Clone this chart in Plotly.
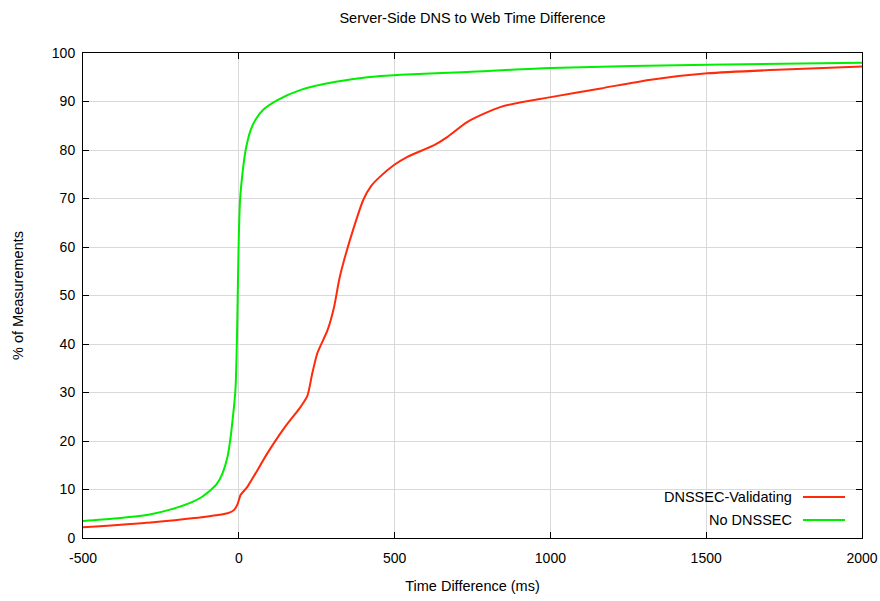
import plotly.graph_objects as go

# No DNSSEC (green)
nodnssec_ms = [-500, -400, -282, -218, -154, -120, -90, -70, -52, -36, -26, -20, -14, -10, -6, -3, 0, 4, 12, 22, 38, 55, 80, 124, 199, 306, 413, 520, 734, 1001, 1504, 2000]
nodnssec_pct = [3.5, 4.0, 4.9, 5.9, 7.3, 8.4, 9.9, 11.2, 13.4, 16.8, 20.9, 24.3, 28.0, 31.5, 40.8, 52.0, 62.0, 69.7, 75.3, 80.0, 84.1, 86.4, 88.4, 90.3, 92.4, 94.0, 95.0, 95.5, 96.1, 96.9, 97.6, 98.0]

# DNSSEC-Validating (red)
valid_ms = [-500, -282, -143, -36, -15, -4, 1, 6, 28, 92, 145, 199, 220, 236, 252, 285, 306, 322, 338, 370, 400, 425, 450, 498, 541, 627, 670, 734, 841, 1001, 1162, 1322, 1504, 1750, 2000]
valid_pct = [2.2, 3.2, 4.1, 5.1, 5.8, 7.0, 8.0, 8.9, 10.6, 17.5, 22.6, 27.1, 29.3, 34.0, 38.1, 42.9, 47.7, 53.2, 57.3, 64.2, 69.8, 72.6, 74.3, 76.9, 78.6, 81.0, 82.7, 85.8, 88.9, 90.9, 92.7, 94.5, 95.8, 96.6, 97.2]

x_ticks = [-500, 0, 500, 1000, 1500, 2000]
y_ticks = list(range(0, 101, 10))

RED = "#ff2a0a"
GREEN = "#00ee00"
FONT = "Liberation Sans, Arial, sans-serif"

fig = go.Figure()
fig.add_trace(go.Scatter(x=valid_ms, y=valid_pct, mode="lines", name="DNSSEC-Validating",
                         line=dict(color=RED, width=2, shape="spline", smoothing=0.7), showlegend=False))
fig.add_trace(go.Scatter(x=nodnssec_ms, y=nodnssec_pct, mode="lines", name="No DNSSEC",
                         line=dict(color=GREEN, width=2, shape="spline", smoothing=0.7), showlegend=False))

axis_common = dict(showline=True, linecolor="black", linewidth=1, mirror="ticks",
                   ticks="inside", ticklen=6, tickcolor="black", showgrid=True,
                   gridcolor="#d9d9d9", gridwidth=1, zeroline=False,
                   tickfont=dict(family=FONT, size=14, color="black"), automargin=False)

L, R, T, B = 83, 862, 53, 538

fig.update_layout(
    width=880, height=601,
    margin=dict(l=L, r=880 - R, t=T, b=601 - B),
    paper_bgcolor="white", plot_bgcolor="white",
    title=dict(text="Server-Side DNS to Web Time Difference", x=(L + R) / 2 / 880, xanchor="center",
               y=1 - 18 / 601, yanchor="middle", font=dict(family=FONT, size=14.5, color="black")),
    xaxis=dict(range=[-500, 2000], tickvals=x_ticks, ticktext=[str(v) for v in x_ticks],
               title=dict(text="Time Difference (ms)", standoff=16, font=dict(family=FONT, size=14.5, color="black")),
               ticklabelstandoff=7, **axis_common),
    yaxis=dict(range=[0, 100], tickvals=y_ticks, ticktext=[str(v) for v in y_ticks],
               title=dict(text="% of Measurements", standoff=24, font=dict(family=FONT, size=14.5, color="black")),
               ticklabelstandoff=4, **axis_common),
)

# custom gnuplot-style legend (text left, sample line right), paper = plot area
def px_x(p):
    return (p - L) / (R - L)
def px_y(p):
    return (B - p) / (B - T)

fig.add_shape(type="rect", xref="paper", yref="paper", x0=px_x(644), x1=px_x(861), y0=px_y(537), y1=px_y(487),
              fillcolor="white", line=dict(width=0), layer="between")
legend_items = [("DNSSEC-Validating", RED, 497), ("No DNSSEC", GREEN, 520)]
for label, color, yy in legend_items:
    fig.add_annotation(text=label, xref="paper", yref="paper", x=px_x(794), y=px_y(yy),
                       xanchor="right", yanchor="middle", showarrow=False,
                       font=dict(family=FONT, size=14.5, color="black"))
    fig.add_shape(type="line", xref="paper", yref="paper", x0=px_x(803), x1=px_x(845),
                  y0=px_y(yy), y1=px_y(yy), line=dict(color=color, width=2))

fig.write_html("out.html")
